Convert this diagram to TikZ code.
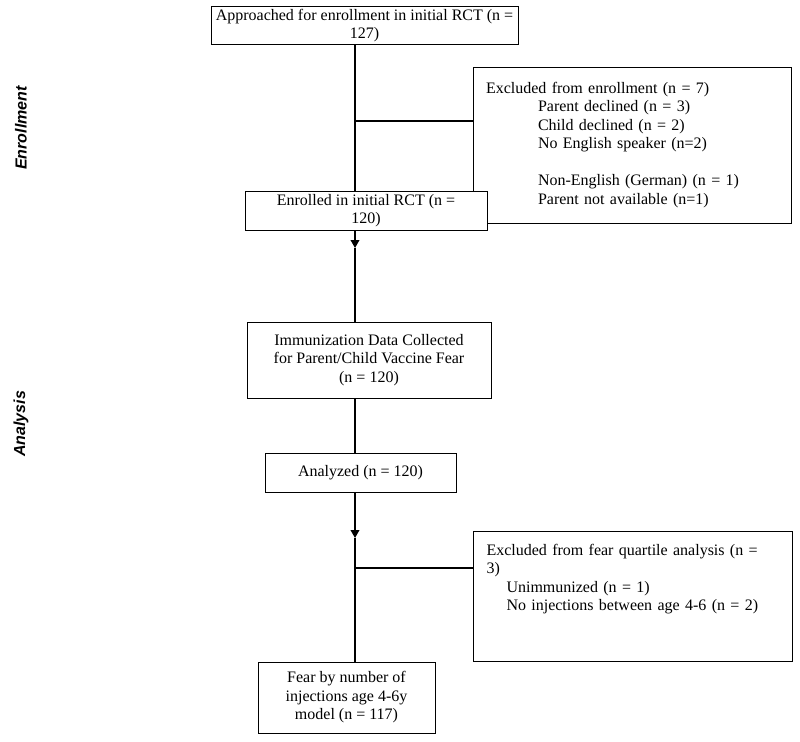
\documentclass[tikz,border=0pt]{standalone}
\usepackage{fontspec}
\setmainfont{Liberation Serif}
\newfontfamily\sidefont{Liberation Sans}
\usepackage{tikz}
\usetikzlibrary{arrows, arrows.meta}

\begin{document}
\begin{tikzpicture}[x=0.75pt, y=-0.75pt,
  box/.style={draw, line width=0.7pt, fill=white, align=center, inner sep=2pt,
    font=\fontsize{12}{13.9}\selectfont},
  exclbox/.style={box, align=left, inner xsep=9.75pt, text width=219pt},
  sidelabel/.style={rotate=90, font=\sidefont\bfseries\itshape\fontsize{12}{14}\selectfont},
  flow/.style={line width=1.1pt},
  flowarrow/.style={flow, -{Triangle[length=6pt, width=6.5pt]}}]
\useasboundingbox (0,0) rectangle (800,742);

\node[sidelabel] (enrLabel) at (21,128) {Enrollment};
\node[sidelabel] (anaLabel) at (21,424) {Analysis};

\node[box, minimum width=230.25pt, minimum height=27.75pt] (approached) at (364.5,25.5)
  {Approached for enrollment in initial RCT (n =\\127)};
\node[exclbox, minimum width=238.5pt, minimum height=117pt] (exclEnrol) at (632,145)
  {Excluded from enrollment (n = 7)\\
   \hspace*{39pt}Parent declined (n = 3)\\
   \hspace*{39pt}Child declined (n = 2)\\
   \hspace*{39pt}No English speaker (n=2)\\
   ~\\
   \hspace*{39pt}Non-English (German) (n = 1)\\
   \hspace*{39pt}Parent not available (n=1)};
\node[box, minimum width=181.5pt, minimum height=29.25pt] (enrolled) at (366,210.5)
  {Enrolled in initial RCT (n =\\120)};
\node[box, minimum width=183pt, minimum height=57pt] (immunData) at (369,360)
  {Immunization Data Collected\\for Parent/Child Vaccine Fear\\(n = 120)};
\node[box, minimum width=143.25pt, minimum height=29.25pt] (analyzed) at (360.5,472.5)
  {Analyzed (n = 120)};
\node[exclbox, minimum width=239.25pt, minimum height=97.5pt] (exclFear) at (632.5,596)
  {Excluded from fear quartile analysis (n =\\
   3)\\
   \hspace*{15pt}Unimmunized (n = 1)\\
   \hspace*{15pt}No injections between age 4-6 (n = 2)\\
   ~\\
   ~};
\node[box, minimum width=132.75pt, minimum height=53.25pt] (fearModel) at (346.5,697.5)
  {Fear by number of\\injections age 4-6y\\model (n = 117)};

\coordinate (spine) at (355,0);
\coordinate (branchEnrol) at (355,121);
\coordinate (tipEnrol) at (355,248);
\coordinate (tipAnalysis) at (355,538);
\coordinate (branchFear) at (355,568);

\draw[flow] (approached.south -| spine) -- (enrolled.north -| spine);
\draw[flow] (branchEnrol) -- (branchEnrol -| exclEnrol.west);
\draw[flowarrow] (enrolled.south -| spine) -- (tipEnrol);
\draw[flow] (tipEnrol) -- (immunData.north -| spine);
\draw[flow] (immunData.south -| spine) -- (analyzed.north -| spine);
\draw[flowarrow] (analyzed.south -| spine) -- (tipAnalysis);
\draw[flow] (tipAnalysis) -- (fearModel.north -| spine);
\draw[flow] (branchFear) -- (branchFear -| exclFear.west);
\end{tikzpicture}
\end{document}
